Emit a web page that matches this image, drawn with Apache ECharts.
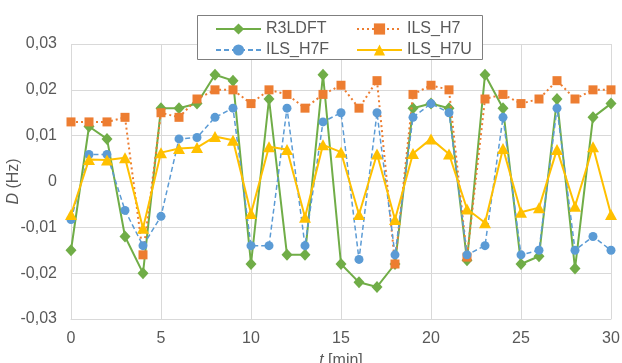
<!DOCTYPE html>
<html>
<head>
<meta charset="utf-8">
<script src="https://cdn.jsdelivr.net/npm/echarts@6/dist/echarts.min.js"></script>
<style>
html,body{margin:0;padding:0;background:#fff;}
#c{width:622px;height:363px;}
</style>
</head>
<body>
<div id="c"></div>
<script>
var times = [0,1,2,3,4,5,6,7,8,9,10,11,12,13,14,15,16,17,18,19,20,21,22,23,24,25,26,27,28,29,30];
var seriesNames = ['R3LDFT','ILS_H7','ILS_H7F','ILS_H7U'];
var r3ldft = [-0.015,0.012,0.0093,-0.012,-0.020,0.016,0.016,0.017,0.0233,0.022,-0.018,0.018,-0.016,-0.016,0.0233,-0.018,-0.022,-0.023,-0.018,0.016,0.017,0.016,-0.0172,0.0233,0.016,-0.018,-0.0163,0.018,-0.019,0.014,0.017];
var ilsH7 = [0.013,0.013,0.013,0.014,-0.016,0.015,0.014,0.018,0.020,0.020,0.017,0.020,0.019,0.016,0.019,0.021,0.016,0.022,-0.018,0.019,0.021,0.020,-0.0165,0.018,0.019,0.017,0.018,0.022,0.018,0.020,0.020];
var ilsH7F = [-0.0083,0.0059,0.0059,-0.0063,-0.014,-0.0076,0.0093,0.0096,0.014,0.016,-0.014,-0.014,0.016,-0.014,0.013,0.015,-0.017,0.015,-0.016,0.014,0.017,0.015,-0.016,-0.014,0.014,-0.016,-0.015,0.016,-0.015,-0.012,-0.015];
var ilsH7U = [-0.0072,0.0048,0.0047,0.0052,-0.0102,0.0063,0.0072,0.0074,0.0098,0.009,-0.007,0.0076,0.007,-0.0078,0.008,0.0064,-0.0072,0.006,-0.0083,0.0061,0.0093,0.006,-0.006,-0.009,0.0072,-0.0067,-0.0057,0.007,-0.0054,0.0076,-0.0072];
var xTicks = [0,5,10,15,20,25,30];
var yTicks = [-0.03,-0.02,-0.01,0,0.01,0.02,0.03];

function pairs(vals){ return times.map(function(t,i){ return [t, vals[i]]; }); }
var FONT = 'Liberation Sans, Arial, sans-serif';
var TXT = '#595959';
var GRID = '#d9d9d9';

var chart = echarts.init(document.getElementById('c'), null, {renderer:'canvas'});
chart.setOption({
  animation:false,
  backgroundColor:'#fff',
  textStyle:{fontFamily:FONT},
  grid:{left:71,right:11,top:44,bottom:44,containLabel:false,outerBoundsMode:'none'},
  graphic:[{
    type:'rect', z:50, left:197, top:15,
    shape:{width:285,height:44},
    style:{fill:'#fff',stroke:'#7f7f7f',lineWidth:1}
  }],
  legend:[{
    z:60, orient:'vertical', left:210, top:16, itemWidth:45, itemHeight:14, itemGap:5,
    data:[seriesNames[0],seriesNames[2]],
    textStyle:{color:TXT,fontSize:16,fontFamily:FONT}
  },{
    z:60, orient:'vertical', left:351, top:16, itemWidth:45, itemHeight:14, itemGap:5,
    data:[seriesNames[1],seriesNames[3]],
    textStyle:{color:TXT,fontSize:16,fontFamily:FONT}
  }],
  xAxis:{
    type:'value', min:xTicks[0], max:xTicks[xTicks.length-1], interval:5,
    name:'{i|t} [min]', nameLocation:'middle', nameGap:34, nameMoveOverlap:false,
    nameTextStyle:{color:TXT,fontSize:16,fontFamily:FONT,rich:{i:{fontStyle:'italic',fontSize:16,color:TXT,fontFamily:FONT}}},
    axisLine:{show:true,onZero:false,lineStyle:{color:GRID,width:1}},
    axisTick:{show:false},
    axisLabel:{color:TXT,fontSize:16,margin:12,fontFamily:FONT},
    splitLine:{show:true,lineStyle:{color:GRID,width:1}}
  },
  yAxis:{
    type:'value', min:yTicks[0], max:yTicks[yTicks.length-1], interval:0.01,
    name:'{i|D} (Hz)', nameLocation:'middle', nameGap:49, nameRotate:90, nameMoveOverlap:false,
    nameTextStyle:{color:TXT,fontSize:16,fontFamily:FONT,rich:{i:{fontStyle:'italic',fontSize:16,color:TXT,fontFamily:FONT}}},
    axisLine:{show:false},
    axisTick:{show:false},
    axisLabel:{color:TXT,fontSize:16,margin:14,fontFamily:FONT,
      formatter:function(v){ var r=Math.round(v*100)/100; if(r===0) return '0'; return r.toFixed(2).replace('.',','); }},
    splitLine:{show:true,lineStyle:{color:GRID,width:1}}
  },
  series:[{
    name:seriesNames[0], type:'line', data:pairs(r3ldft), z:2,
    symbol:'diamond', symbolSize:[11,12], color:'#70ad47',
    lineStyle:{color:'#70ad47',width:2,type:'solid'},
    itemStyle:{color:'#70ad47'}
  },{
    name:seriesNames[1], type:'line', data:pairs(ilsH7), z:3,
    symbol:'rect', symbolSize:9, color:'#ed7d31',
    lineStyle:{color:'#ed7d31',width:2,type:[2,3]},
    itemStyle:{color:'#ed7d31'}
  },{
    name:seriesNames[2], type:'line', data:pairs(ilsH7F), z:4,
    symbol:'circle', symbolSize:9, color:'#5b9bd5',
    lineStyle:{color:'#5b9bd5',width:1.5,type:[5,3]},
    itemStyle:{color:'#5b9bd5'}
  },{
    name:seriesNames[3], type:'line', data:pairs(ilsH7U), z:5,
    symbol:'triangle', symbolSize:[12,11], color:'#ffc000',
    lineStyle:{color:'#ffc000',width:2,type:'solid'},
    itemStyle:{color:'#ffc000'}
  }]
});
</script>
</body>
</html>
